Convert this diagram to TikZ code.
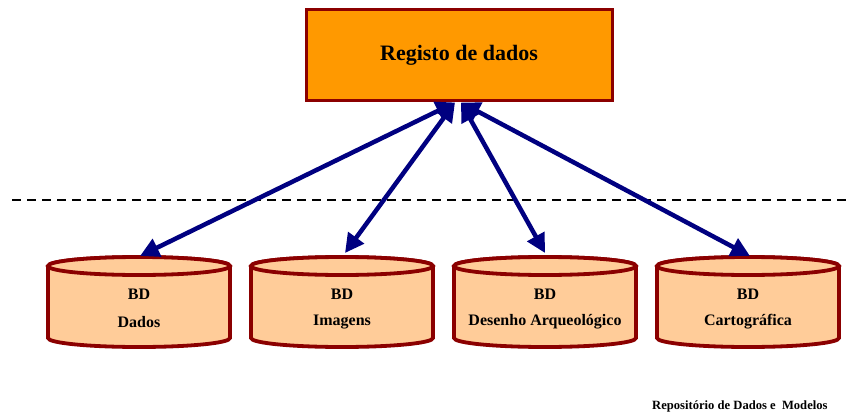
\documentclass[tikz,border=0pt]{standalone}
\usepackage{fontspec}
\setmainfont{Liberation Serif}
\usetikzlibrary{arrows.meta,calc}
\definecolor{boxfill}{HTML}{FF9900}
\definecolor{rimred}{HTML}{8B0000}
\definecolor{dbfill}{HTML}{FFCC99}
\definecolor{navy}{HTML}{000080}
\tikzset{
  regbox/.style={draw=rimred,line width=3pt,fill=boxfill,minimum width=306pt,minimum height=90pt,inner sep=0pt,
    font=\fontsize{22}{24}\selectfont\bfseries},
  dbline/.style={draw=rimred,line width=3.8pt,fill=dbfill},
  dblabel/.style={font=\fontsize{16}{18}\selectfont\bfseries,inner sep=0pt},
  link/.style={draw=navy,line width=4.5pt,{Triangle[length=19pt,width=19pt]}-{Triangle[length=19pt,width=19pt]}},
  sepline/.style={line width=2.8pt,dash pattern=on 9pt off 6pt},
}
% one database cylinder: centre x, name, label
\newcommand{\dbcyl}[3]{%
  \path[dbline] (#1-91,266) -- (#1-91,338) arc[start angle=180,end angle=0,x radius=91,y radius=9]
     -- (#1+91,266) arc[start angle=0,end angle=-180,x radius=91,y radius=9] -- cycle;
  \draw[dbline] (#1,266) ellipse[x radius=91,y radius=9];
  \coordinate (#2) at (#1,257);
  \node[dblabel] (#2bd) at (#1,294) {BD};
  \node[dblabel] (#2nm) at (#1,322) {#3};
}
\begin{document}
\begin{tikzpicture}[x=1pt,y=-1pt]
  \useasboundingbox (0,0) rectangle (859,412);
  \node[regbox] (reg) at (459,55) {Registo de dados};
  \draw[sepline] (12,200) coordinate (sl) -- (848,200) coordinate (sr);
  \dbcyl{139}{dados}{Dados}
  \dbcyl{342}{imagens}{Imagens}
  \dbcyl{545}{desenho}{Desenho Arqueológico}
  \dbcyl{748}{carto}{Cartográfica}
  \coordinate (hl) at ($(reg.south)+(-4,1)$);
  \coordinate (hr) at ($(reg.south)+(2,1)$);
  \draw[link] (hl) -- ($(dados)+(1,-1)$);
  \draw[link] (hl) -- ($(imagens)+(3,-4)$);
  \draw[link] (hr) -- ($(desenho)+(0,-4)$);
  \draw[link] (hr) -- ($(carto)+(2,-1)$);
  \node[font=\fontsize{12.6}{14}\selectfont\bfseries,anchor=base west,inner sep=0pt] (foot) at (652,409) {Repositório de Dados e\ \ Modelos};
\end{tikzpicture}
\end{document}
